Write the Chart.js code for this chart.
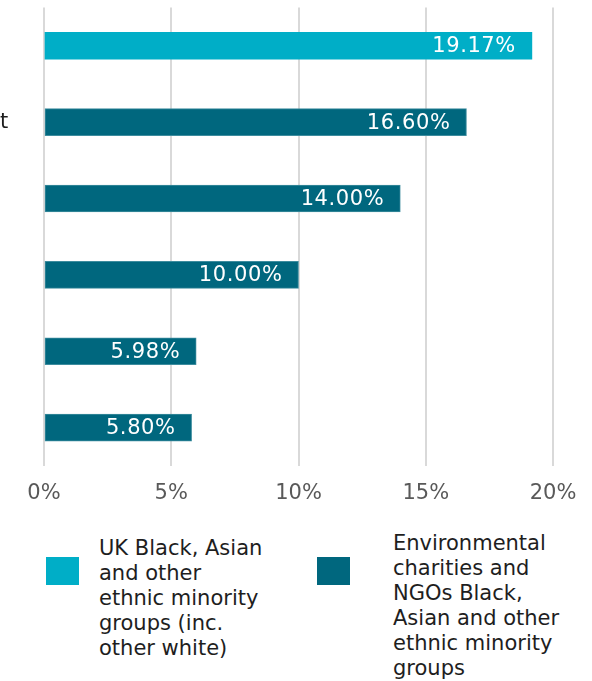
<!DOCTYPE html>
<html>
<head>
<meta charset="utf-8">
<script src="https://cdn.jsdelivr.net/npm/chart.js@4"></script>
<style>
  body { margin: 0; background: #fff; font-family: "DejaVu Sans", Verdana, sans-serif; }
  #wrap { position: relative; width: 592px; height: 681px; overflow: hidden; }
  #chartBox { position: absolute; left: 0; top: -5px; width: 592px; height: 526px; }
  .key { position: absolute; width: 33px; height: 28px; top: 557px; }
  .keyText { position: absolute; font-size: 21px; line-height: 25px; color: #1e1e1e; }
</style>
</head>
<body>
<div id="wrap">
  <div id="chartBox"><canvas id="myChart"></canvas></div>
  <div class="key" style="left:46px;background:#00aec7"></div>
  <div class="keyText" style="left:99px;top:536px">UK Black, Asian<br>and other<br>ethnic minority<br>groups (inc.<br>other white)</div>
  <div class="key" style="left:317px;background:#00677e"></div>
  <div class="keyText" style="left:393px;top:531px">Environmental<br>charities and<br>NGOs Black,<br>Asian and other<br>ethnic minority<br>groups</div>
</div>
<script>
// row labels (only the tail of the second one is visible)
const categories = ["", "t", "", "", "", ""];
const ukPopulation = [19.17, null, null, null, null, null];
const sectorShare = [null, 16.6, 14.0, 10.0, 5.98, 5.8];
const xTicks = [0, 5, 10, 15, 20];

const fontFamily = '"DejaVu Sans", Verdana, sans-serif';

// writes the value inside the end of each bar
const barValues = {
  id: "barValues",
  afterDatasetsDraw(chart) {
    const ctx = chart.ctx;
    ctx.save();
    ctx.font = "21px " + fontFamily;
    ctx.letterSpacing = "0.6px";
    ctx.fillStyle = "#ffffff";
    ctx.textAlign = "right";
    ctx.textBaseline = "middle";
    chart.data.datasets.forEach((ds, i) => {
      chart.getDatasetMeta(i).data.forEach((bar, j) => {
        const v = ds.data[j];
        if (v === null) return;
        ctx.fillText(v.toFixed(2) + "%", bar.x - 16, bar.y + 1);
      });
    });
    ctx.restore();
  }
};

let ctx = document.getElementById("myChart").getContext("2d");
let chart = new Chart(ctx, {
  type: "bar",
  data: {
    labels: categories,
    datasets: [
      {
        label: "UK Black, Asian and other ethnic minority groups (inc. other white)",
        backgroundColor: "#00aec7",
        data: ukPopulation,
        barThickness: 27
      },
      {
        label: "Environmental charities and NGOs Black, Asian and other ethnic minority groups",
        backgroundColor: "#00677e",
        borderColor: "#3d8c9e",
        borderWidth: 1,
        borderSkipped: false,
        data: sectorShare,
        barThickness: 27
      }
    ]
  },
  options: {
    indexAxis: "y",
    responsive: true,
    maintainAspectRatio: false,
    animation: false,
    layout: { padding: { top: 8, right: 39, bottom: 0, left: 0 } },
    plugins: {
      legend: { display: false },
      tooltip: { enabled: false }
    },
    scales: {
      x: {
        stacked: true,
        min: 0,
        max: 20,
        afterBuildTicks: scale => {
          scale.ticks = xTicks.map(v => ({ value: v }));
        },
        ticks: {
          padding: 15,
          color: "#595959",
          font: { family: fontFamily, size: 21 },
          callback: v => v + "%"
        },
        grid: { color: "#d9d9d9", lineWidth: 2, drawTicks: false },
        border: { display: false }
      },
      y: {
        stacked: true,
        afterFit: scale => { scale.width = 44; },
        ticks: {
          padding: 0,
          crossAlign: "far",
          color: "#1e1e1e",
          font: { family: fontFamily, size: 21 }
        },
        grid: { display: false, drawTicks: false },
        border: { display: false }
      }
    }
  },
  plugins: [barValues]
});
</script>
</body>
</html>
